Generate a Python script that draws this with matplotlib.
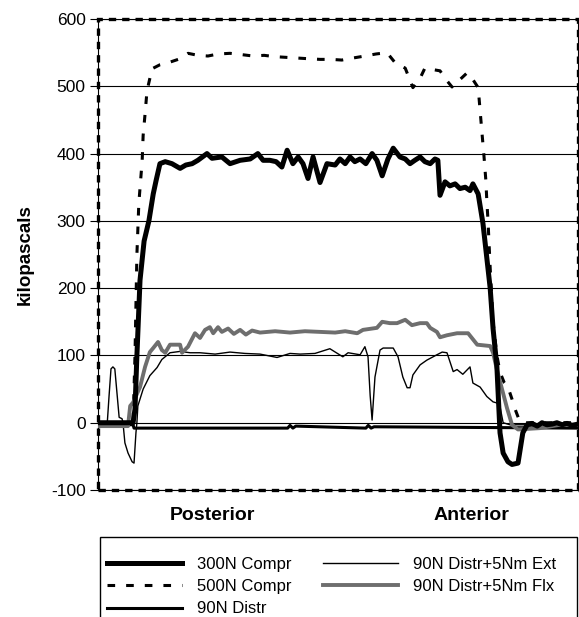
import numpy as np
import matplotlib
matplotlib.use('Agg')
import matplotlib.pyplot as plt
from matplotlib.patches import Rectangle

plt.rcParams['font.family'] = ['Liberation Sans', 'DejaVu Sans']
plt.rcParams['axes.unicode_minus'] = False

# position along the disc (0 = posterior edge, 100 = anterior edge) and pressure (kPa)
x_300 = [0, 7.3, 7.7, 8.1, 8.75, 9.6, 10.6, 11.5, 12.1, 12.9, 14.0, 15.4, 17.1, 18.3, 19.6,
         20.8, 22.7, 23.75, 25.8, 27.5, 29.6, 31.7, 33.3, 34.4, 35.8, 37.1, 38.3, 39.4, 40.6, 41.7,
         42.7, 43.75, 44.8, 46.25, 47.7, 49.4, 50.4, 51.5, 52.5, 53.5, 54.6, 55.8, 57.1, 58.1, 59.2,
         60.4, 61.5, 62.9, 64.0, 65.0, 66.0, 67.1, 68.1, 69.2, 70.2, 70.8, 71.25, 72.3, 73.3, 74.4,
         75.4, 76.5, 77.5, 78.1, 79.2, 80.2, 81.7, 82.3, 83.1, 83.75, 84.4, 85.4, 86.25, 87.5, 88.5,
         89.4, 90.4, 91.5, 92.5, 93.5, 94.6, 95.6, 96.7, 97.7, 98.75, 100]
p_300 = [0, 0, 20, 100, 212, 270, 300, 340, 360, 385, 388, 385, 378, 383, 385,
         390, 400, 393, 395, 385, 390, 392, 400, 390, 390, 388, 380, 405, 385, 395,
         385, 363, 395, 357, 385, 383, 392, 385, 395, 388, 392, 385, 400, 390, 367,
         392, 408, 395, 392, 385, 390, 395, 388, 385, 392, 390, 338, 358, 352, 355,
         348, 350, 345, 355, 340, 296, 200, 140, 83, -15, -45, -58, -62, -60, -15,
         -3, -1, -5, 0, -3, -2, 0, -3, -1, -4, -2]

x_500 = [0, 7.3, 7.7, 8.1, 8.5, 9.2, 9.4, 9.8, 10.2, 11.25, 12.9, 14.6, 16.7, 18.75, 20.8,
         22.9, 25.0, 27.5, 30.0, 32.3, 34.6, 36.9, 39.2, 41.5, 43.75, 46.25, 48.5, 50.8, 53.1, 55.6,
         57.9, 60.2, 61.9, 64.0, 65.6, 67.1, 68.1, 69.6, 71.25, 72.5, 73.75, 75.4, 76.9, 78.1, 79.2,
         79.6, 80.0, 80.4, 80.8, 81.0, 81.25, 81.7, 82.3, 83.1, 83.75, 84.6, 85.4, 86.25, 86.9, 87.7,
         88.3, 100]
p_500 = [0, 0, 100, 250, 326, 390, 427, 459, 493, 526, 532, 535, 540, 549, 546,
         545, 548, 549, 547, 545, 546, 544, 543, 542, 541, 540, 540, 539, 542, 545,
         548, 550, 535, 527, 498, 512, 527, 525, 523, 510, 499, 510, 520, 510, 498,
         464, 430, 397, 360, 330, 300, 230, 150, 100, 75, 60, 53, 35, 20, 5,
         0, 0]

x_90 = [0, 7.3, 7.5, 39.5, 40.0, 40.6, 41.2, 55.8, 56.3, 56.9, 57.5, 100]
p_90 = [-3, -3, -8, -8, -4, -8, -5, -8, -4, -8, -6, -8]

x_ext = [0, 1.9, 2.3, 2.7, 3.1, 3.5, 4.0, 4.4, 5.0, 5.2, 5.6, 6.25, 7.1, 7.5, 7.9,
         8.1, 8.3, 9.4, 10.8, 12.3, 13.3, 15.0, 17.1, 19.2, 21.25, 24.4, 27.5, 30.6, 33.75, 37.3,
         40.0, 42.1, 45.2, 48.3, 51.0, 52.1, 54.6, 55.6, 56.25, 56.7, 57.1, 57.7, 58.75, 59.4, 61.5,
         62.5, 63.5, 64.4, 65.0, 65.6, 67.1, 68.5, 70.6, 71.7, 72.7, 74.0, 74.8, 76.0, 77.5, 78.1,
         79.6, 81.0, 82.3, 83.3, 83.75, 84.4, 85.8, 100]
p_ext = [-3, -3, 40, 80, 83, 80, 40, 8, 6, 0, -30, -45, -58, -60, -15,
         0, 25, 50, 70, 82, 94, 104, 106, 104, 104, 102, 105, 103, 102, 97,
         103, 102, 103, 110, 98, 104, 101, 113, 98, 40, 4, 68, 108, 111, 111,
         98, 68, 52, 52, 71, 86, 93, 101, 105, 104, 76, 79, 72, 83, 59,
         53, 39, 31, 29, 24, 0, -3, -3]

x_flx = [0, 6.25, 6.7, 7.3, 8.75, 9.8, 10.8, 11.5, 12.5, 13.3, 14.0, 15.0, 17.1, 17.5, 18.75,
         20.2, 21.25, 22.3, 23.3, 24.0, 25.0, 25.8, 27.1, 28.3, 29.6, 30.8, 32.1, 33.75, 36.9, 40.0,
         43.1, 46.25, 49.4, 51.5, 54.0, 55.2, 58.1, 59.2, 60.8, 62.3, 64.0, 65.4, 67.1, 68.5, 69.2,
         70.6, 71.25, 72.7, 74.8, 77.1, 79.0, 81.7, 82.3, 83.1, 84.2, 85.2, 86.25, 87.5, 92.1, 96.25,
         100]
p_flx = [-5, -5, 25, 30, 53, 83, 105, 111, 120, 108, 104, 116, 116, 104, 113,
         133, 126, 138, 142, 133, 142, 135, 140, 132, 138, 131, 137, 134, 136, 134,
         136, 135, 134, 136, 133, 138, 141, 150, 148, 148, 153, 145, 148, 148, 141,
         135, 127, 130, 133, 133, 116, 114, 104, 79, 49, 22, -3, -10, -8, -3,
         -3]

labels = ['300N Compr', '500N Compr', '90N Distr', '90N Distr+5Nm Ext', '90N Distr+5Nm Flx']
region_pos = [23.75, 77.9]
region_labels = ['Posterior', 'Anterior']

fig = plt.figure(figsize=(5.79, 6.17), dpi=100)
ax = fig.add_axes([0.1693, 0.2058, 0.829, 0.7634])

ax.set_ylim(-100, 600)
ax.set_xlim(0, 100)
ax.set_yticks(np.arange(-100, 601, 100))
ax.yaxis.grid(True, color='black', lw=0.8)
ax.set_axisbelow(True)

l1, = ax.plot(x_300, p_300, color='black', lw=3.6, zorder=5, solid_joinstyle='round')
l2, = ax.plot(x_500, p_500, color='black', lw=2.2, dashes=(2.5, 3.6), zorder=4)
l3, = ax.plot(x_90, p_90, color='black', lw=2.2, zorder=3)
l4, = ax.plot(x_ext, p_ext, color='black', lw=1.0, zorder=3)
l5, = ax.plot(x_flx, p_flx, color='#6e6e6e', lw=2.8, zorder=4)

for s in ax.spines.values():
    s.set_linewidth(0.8)
ax.add_patch(Rectangle((0, 0), 1, 1, transform=ax.transAxes, fill=False,
                       edgecolor='black', lw=2.4, linestyle=(0, (2.2, 1.8)),
                       clip_on=False, zorder=6))

ax.tick_params(axis='y', direction='out', length=6, width=0.8, labelsize=12.5, pad=3)
ax.set_xticks(region_pos)
ax.set_xticklabels(region_labels, fontsize=14, fontweight='bold')
ax.tick_params(axis='x', length=0, pad=12)
ax.set_ylabel('kilopascals', fontsize=13.5, fontweight='bold', labelpad=12)

# legend box runs off the bottom of the figure, as in the original
fig.patches.append(Rectangle((100 / 579, -0.05), 477 / 579, 1 - 537 / 617 + 0.05,
                             transform=fig.transFigure, fill=False,
                             edgecolor='black', lw=1.0))
leg = fig.legend([l1, l2, l3, l4, l5], labels, ncol=2, loc='upper left',
                 bbox_to_anchor=(100 / 579, 1 - 550 / 617),
                 fontsize=12, handlelength=4.5, handletextpad=0.9, labelspacing=0.44,
                 columnspacing=1.9, borderpad=0.4, frameon=False, borderaxespad=0)

fig.savefig('out.png', dpi=100)
